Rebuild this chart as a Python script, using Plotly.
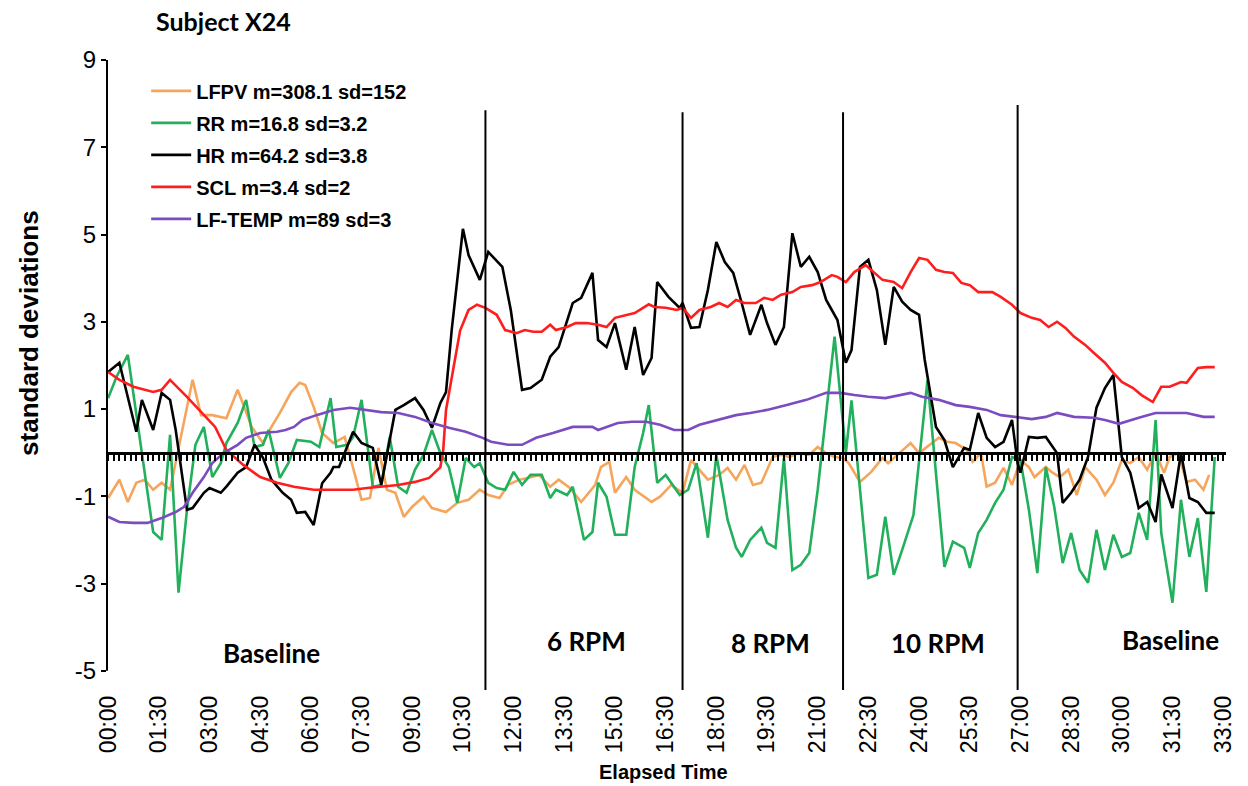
import plotly.graph_objects as go

# ---------------- data (time in seconds, values in standard deviations) ----------------
lfpv_t = [0, 20, 35, 50, 65, 80, 95, 110, 150, 165, 185, 210, 230, 255, 275, 290, 305, 325, 340, 350,
          365, 380, 400, 420, 435, 450, 465, 480, 495, 510, 525, 540, 560, 575, 600, 620, 640, 660, 675, 695,
          710, 730, 745, 765, 785, 800, 820, 840, 865, 875, 890, 900, 920, 935, 965, 980, 1000, 1020, 1035, 1050,
          1065, 1085, 1100, 1115, 1130, 1145, 1160, 1180, 1195, 1210, 1225, 1245, 1260, 1275, 1290, 1305, 1315, 1335, 1355, 1375,
          1385, 1405, 1425, 1440, 1460, 1475, 1490, 1505, 1525, 1535, 1550, 1560, 1575, 1590, 1605, 1620, 1635, 1645, 1665, 1675,
          1690, 1705, 1720, 1735, 1755, 1770, 1785, 1800, 1815, 1830, 1845, 1860, 1875, 1885, 1900, 1915, 1930, 1945, 1955]
lfpv_v = [-1.04, -0.62, -1.13, -0.69, -0.62, -0.85, -0.69, -0.85, 1.67, 0.86, 0.86, 0.79, 1.44, 0.59, 0.22, 0.59, 0.91, 1.39, 1.6, 1.55,
          1.05, 0.45, 0.22, 0.36, -0.35, -1.08, -1.04, 0.11, -0.85, -0.92, -1.47, -1.24, -1.01, -1.27, -1.36, -1.15, -1.08, -0.85, -0.97, -1.04,
          -0.74, -0.62, -0.58, -0.51, -0.78, -0.62, -0.81, -1.13, -0.74, -0.33, -0.21, -0.92, -0.56, -0.85, -1.13, -1.01, -0.74, -0.92, -0.17, -0.39,
          -0.62, -0.51, -0.35, -0.62, -0.28, -0.74, -0.69, -0.1, -0.05, -0.1, -0.01, -0.05, 0.13, -0.01, -0.1, -0.12, -0.24, -0.67, -0.44, -0.12,
          -0.24, -0.01, 0.22, -0.01, 0.18, 0.34, 0.25, 0.22, 0.06, -0.21, -0.01, -0.78, -0.69, -0.35, -0.74, -0.17, -0.33, -0.56, -0.33, -0.44,
          -0.56, -0.39, -0.97, -0.33, -0.62, -0.97, -0.69, -0.17, -0.24, -0.1, -0.39, -0.01, -0.46, -0.1, -0.01, -0.67, -0.62, -0.85, -0.51]

rr_t = [0, 15, 35, 80, 95, 110, 125, 140, 155, 170, 185, 200, 210, 230, 245, 260, 275, 285, 305, 320,
        335, 360, 375, 395, 405, 425, 435, 450, 470, 485, 500, 515, 530, 545, 560, 575, 590, 605, 620, 635,
        650, 660, 675, 690, 705, 720, 735, 750, 770, 785, 795, 815, 825, 845, 860, 870, 885, 900, 920, 935,
        950, 960, 975, 990, 1015, 1030, 1045, 1065, 1080, 1100, 1115, 1125, 1140, 1160, 1170, 1185, 1200, 1215, 1230, 1245,
        1260, 1275, 1290, 1310, 1320, 1350, 1365, 1380, 1395, 1410, 1430, 1455, 1485, 1500, 1520, 1530, 1545, 1560, 1575, 1590,
        1605, 1620, 1635, 1650, 1665, 1680, 1695, 1710, 1725, 1740, 1755, 1770, 1785, 1800, 1815, 1830, 1845, 1860, 1870, 1890,
        1905, 1920, 1935, 1950, 1965]
rr_v = [1.25, 1.74, 2.24, -1.82, -2.0, 0.41, -3.21, -1.31, 0.18, 0.59, -0.56, -0.24, 0.22, 0.68, 1.21, 0.13, 0.18, 0.52, -0.58, -0.24,
        0.29, 0.25, 0.13, 1.25, 0.13, 0.18, 0.36, 1.21, -0.78, -0.74, 0.36, -0.78, -0.92, -0.39, -0.05, 0.52, -0.01, -0.33, -1.15, -0.12,
        -0.33, -0.24, -0.69, -0.81, -0.85, -0.44, -0.74, -0.51, -0.51, -1.04, -0.85, -0.97, -0.78, -2.0, -1.82, -0.69, -1.01, -1.88, -1.88, -0.33,
        0.45, 1.09, -0.69, -0.51, -0.97, -0.85, -0.24, -1.95, -0.05, -1.54, -2.18, -2.39, -2.0, -1.72, -2.07, -2.18, -0.12, -2.69, -2.57, -2.3,
        -0.85, 0.87, 2.66, -0.01, 1.2, -2.87, -2.8, -1.47, -2.8, -2.23, -1.43, 1.67, -2.62, -2.04, -2.18, -2.64, -1.84, -1.54, -1.15, -0.85,
        -0.1, -0.17, -1.31, -2.76, -0.33, -1.24, -2.53, -1.84, -2.69, -2.98, -1.77, -2.69, -1.88, -2.39, -2.3, -1.38, -2.0, 0.75, -1.84, -3.44,
        -1.08, -2.39, -1.5, -3.19, -0.1]

hr_t = [0, 20, 50, 60, 80, 95, 110, 120, 140, 150, 170, 180, 200, 210, 230, 245, 260, 275, 290, 310,
        325, 335, 350, 365, 380, 395, 400, 410, 435, 450, 470, 485, 500, 510, 525, 545, 560, 575, 590, 600,
        610, 630, 640, 660, 675, 700, 715, 735, 750, 770, 785, 800, 825, 840, 860, 870, 885, 900, 920, 935,
        950, 965, 975, 995, 1015, 1020, 1035, 1050, 1065, 1080, 1095, 1110, 1125, 1140, 1160, 1170, 1185, 1200, 1215, 1230,
        1245, 1260, 1275, 1295, 1310, 1320, 1335, 1350, 1365, 1380, 1395, 1410, 1425, 1440, 1450, 1470, 1485, 1500, 1520, 1530,
        1545, 1560, 1575, 1590, 1605, 1615, 1620, 1635, 1650, 1665, 1685, 1695, 1710, 1725, 1740, 1755, 1770, 1785, 1800, 1815,
        1830, 1845, 1860, 1870, 1890, 1905, 1920, 1935, 1950, 1965]
hr_v = [1.85, 2.06, 0.48, 1.21, 0.52, 1.37, 1.21, 0.52, -1.31, -1.27, -0.92, -0.81, -0.92, -0.78, -0.46, -0.33, 0.18, -0.12, -0.62, -0.92,
        -1.08, -1.38, -1.36, -1.66, -0.7, -0.46, -0.33, -0.33, 0.48, 0.22, 0.11, -0.74, 0.29, 0.98, 1.09, 1.25, 0.98, 0.57, 1.14, 1.39,
        2.8, 5.13, 4.53, 3.96, 4.6, 4.26, 3.27, 1.44, 1.48, 1.67, 2.2, 2.42, 3.43, 3.55, 4.12, 2.58, 2.42, 2.97, 1.9, 2.88,
        1.78, 2.17, 3.91, 3.57, 3.32, 3.43, 2.86, 2.88, 3.73, 4.83, 4.37, 4.12, 3.43, 2.7, 3.39, 2.97, 2.47, 2.88, 5.03, 4.26,
        4.49, 4.14, 3.5, 3.04, 2.06, 2.35, 4.26, 4.42, 3.73, 2.47, 3.8, 3.46, 3.27, 3.16, 2.13, 0.59, 0.29, -0.33, 0.11, 0.06,
        0.91, 0.34, 0.13, 0.25, 0.75, -0.24, -0.46, 0.36, 0.34, 0.36, -0.01, -1.15, -0.92, -0.62, -0.1, 1.03, 1.48, 1.78, -0.1, -0.46,
        -1.27, -1.13, -1.59, -0.5, -1.27, -0.01, -1.04, -1.13, -1.38, -1.38]

scl_t = [0, 20, 45, 80, 95, 110, 140, 165, 190, 210, 240, 270, 300, 330, 365, 400, 435, 460, 485, 515,
         545, 570, 590, 595, 600, 625, 640, 655, 670, 690, 705, 725, 740, 755, 770, 785, 795, 815, 830, 850,
         870, 885, 900, 920, 935, 960, 970, 990, 1010, 1020, 1035, 1050, 1070, 1085, 1100, 1115, 1130, 1150, 1165, 1180,
         1195, 1215, 1230, 1250, 1265, 1285, 1295, 1310, 1325, 1345, 1360, 1375, 1395, 1410, 1425, 1440, 1455, 1470, 1485, 1500,
         1515, 1530, 1545, 1570, 1585, 1605, 1620, 1640, 1655, 1670, 1685, 1700, 1715, 1735, 1750, 1770, 1785, 1800, 1820, 1835,
         1855, 1870, 1885, 1905, 1915, 1935, 1950, 1965]
scl_v = [1.85, 1.67, 1.51, 1.39, 1.44, 1.67, 1.28, 0.93, 0.59, 0.06, -0.28, -0.56, -0.69, -0.78, -0.85, -0.85, -0.85, -0.81, -0.78, -0.74,
         -0.67, -0.58, -0.33, 0.06, 0.98, 2.8, 3.27, 3.39, 3.32, 3.16, 2.81, 2.74, 2.81, 2.77, 2.77, 2.93, 2.81, 2.88, 2.97, 2.97,
         2.93, 2.88, 3.09, 3.16, 3.2, 3.4, 3.34, 3.32, 3.27, 3.32, 3.09, 3.27, 3.34, 3.43, 3.34, 3.5, 3.43, 3.43, 3.55, 3.5,
         3.62, 3.68, 3.8, 3.84, 3.91, 4.07, 4.03, 3.91, 4.14, 4.3, 4.12, 3.96, 3.91, 3.77, 4.14, 4.46, 4.42, 4.19, 4.14, 4.12,
         3.89, 3.84, 3.68, 3.68, 3.57, 3.39, 3.2, 3.09, 3.04, 2.88, 3.0, 2.86, 2.66, 2.47, 2.29, 2.06, 1.83, 1.62, 1.48, 1.32,
         1.16, 1.51, 1.51, 1.62, 1.6, 1.94, 1.96, 1.96]

temp_t = [0, 20, 45, 70, 95, 120, 135, 150, 170, 185, 205, 230, 245, 270, 300, 315, 330, 345, 370, 400,
          430, 460, 485, 515, 545, 575, 605, 635, 665, 680, 710, 735, 760, 790, 825, 860, 870, 905, 930, 955,
          980, 1005, 1030, 1050, 1085, 1115, 1140, 1170, 1205, 1240, 1275, 1300, 1325, 1350, 1380, 1405, 1425, 1445, 1475, 1505,
          1530, 1560, 1585, 1610, 1640, 1665, 1685, 1715, 1750, 1770, 1795, 1830, 1860, 1885, 1915, 1945, 1965]
temp_v = [-1.47, -1.59, -1.61, -1.61, -1.5, -1.36, -1.24, -0.92, -0.56, -0.24, -0.01, 0.18, 0.34, 0.45, 0.48, 0.52, 0.59, 0.75, 0.86, 0.98,
          1.03, 0.98, 0.93, 0.91, 0.82, 0.68, 0.57, 0.48, 0.34, 0.25, 0.18, 0.18, 0.34, 0.45, 0.59, 0.59, 0.52, 0.68, 0.71, 0.71,
          0.64, 0.52, 0.52, 0.64, 0.75, 0.86, 0.91, 0.98, 1.09, 1.21, 1.37, 1.37, 1.32, 1.28, 1.25, 1.32, 1.37, 1.28, 1.21, 1.09,
          1.05, 0.98, 0.86, 0.82, 0.77, 0.82, 0.91, 0.82, 0.8, 0.75, 0.66, 0.8, 0.91, 0.91, 0.91, 0.82, 0.82]

series_names = ["LFPV m=308.1 sd=152", "RR m=16.8 sd=3.2", "HR m=64.2 sd=3.8", "SCL m=3.4 sd=2", "LF-TEMP m=89 sd=3"]

tick_secs = [0, 90, 180, 270, 360, 450, 540, 630, 720, 810, 900, 990, 1080, 1170, 1260, 1350,
             1440, 1530, 1620, 1710, 1800, 1890, 1980]
tick_labels = ["00:00", "01:30", "03:00", "04:30", "06:00", "07:30", "09:00", "10:30", "12:00", "13:30", "15:00", "16:30",
               "18:00", "19:30", "21:00", "22:30", "24:00", "25:30", "27:00", "28:30", "30:00", "31:30", "33:00"]

y_ticks = [-5, -3, -1, 1, 3, 5, 7, 9]
y_tick_labels = ["-5", "-3", "-1", "1", "3", "5", "7", "9"]

event_t = [670, 1020, 1305, 1615]
event_top = [7.85, 7.8, 7.8, 7.97]

phase_names = ["Baseline", "6 RPM", "8 RPM", "10 RPM", "Baseline"]
phase_t = [290, 850, 1176, 1474, 1886]
phase_y = [-4.59, -4.31, -4.36, -4.36, -4.29]

# ---------------- styling ----------------
colors = ["#F5A55C", "#22B05C", "#000000", "#FF1E1E", "#7B4CC0"]
Y_MIN, Y_MAX = -5.44, 9
X_MIN, X_MAX = -2, 1985
ARIAL = "Liberation Sans, Arial, sans-serif"
CALIBRI = "Lato, Carlito, Calibri, sans-serif"

fig = go.Figure()
all_series = [(lfpv_t, lfpv_v), (rr_t, rr_v), (hr_t, hr_v), (scl_t, scl_v), (temp_t, temp_v)]
for i, ((t, v), name) in enumerate(zip(all_series, series_names)):
    fig.add_trace(go.Scatter(x=t, y=v, mode="lines", name=name, legendgroup=f"g{i}",
                             line=dict(color=colors[i], width=2.6), hoverinfo="skip"))

# empty trace so the zero-line axis (x2) gets drawn
fig.add_trace(go.Scatter(x=[], y=[], xaxis="x2", showlegend=False, hoverinfo="skip"))

for t, top in zip(event_t, event_top):
    fig.add_shape(type="line", xref="x", yref="y", x0=t, x1=t, y0=Y_MIN, y1=top,
                  line=dict(color="black", width=2))

for name, t, y in zip(phase_names, phase_t, phase_y):
    fig.add_annotation(x=t, y=y, xref="x", yref="y", text=name, showarrow=False,
                       font=dict(family=CALIBRI, size=26, color="black", weight="bold"))

fig.add_annotation(x=0.042, y=1.062, xref="paper", yref="paper", text="Subject X24", showarrow=False,
                   xanchor="left", yanchor="middle",
                   font=dict(family=CALIBRI, size=25, color="black", weight="bold"))
fig.add_annotation(x=-0.0696, y=0.567, xref="paper", yref="paper", text="standard deviations", showarrow=False,
                   textangle=-90, xanchor="center", yanchor="middle",
                   font=dict(family=ARIAL, size=26, color="black", weight="bold"))
fig.add_annotation(x=0.497, y=-0.13, xref="paper", yref="paper", text="Elapsed Time", showarrow=False,
                   xanchor="center", yanchor="middle",
                   font=dict(family=ARIAL, size=20, color="black", weight="bold"))

fig.update_layout(
    width=1248, height=786,
    margin=dict(l=107, r=19, t=60, b=96),
    paper_bgcolor="white", plot_bgcolor="white",
    showlegend=True,
    legend=dict(x=0.035, y=0.982, xanchor="left", yanchor="top", bgcolor="rgba(0,0,0,0)",
                font=dict(family=ARIAL, size=20, color="black", weight="bold"),
                tracegroupgap=3, itemwidth=40),
    xaxis=dict(range=[X_MIN, X_MAX], tickmode="array", tickvals=tick_secs, ticktext=tick_labels,
               tickangle=-90, ticks="", showline=False, showgrid=False, zeroline=False,
               tickfont=dict(family=ARIAL, size=23, color="black")),
    xaxis2=dict(overlaying="x", anchor="free", position=(0 - Y_MIN) / (Y_MAX - Y_MIN), side="bottom",
                range=[X_MIN, X_MAX], tickmode="linear", tick0=0, dtick=10,
                showline=True, linewidth=3, linecolor="black",
                ticks="outside", ticklen=6, tickwidth=2, tickcolor="black",
                showticklabels=False, showgrid=False, zeroline=False),
    yaxis=dict(range=[Y_MIN, Y_MAX], tickmode="array", tickvals=y_ticks, ticktext=y_tick_labels,
               showline=False, ticks="outside", ticklen=5, tickwidth=2, tickcolor="black",
               showgrid=False, zeroline=False,
               tickfont=dict(family=ARIAL, size=24, color="black")),
)

# y axis line from -5 to 9 (the axis line in the reference stops at the -5 tick)
fig.add_shape(type="line", xref="paper", yref="y", x0=0, x1=0, y0=-5, y1=Y_MAX,
              line=dict(color="black", width=2))

fig.write_html("out.html", config={"displayModeBar": False},
               post_script="document.body.style.margin='0';")
